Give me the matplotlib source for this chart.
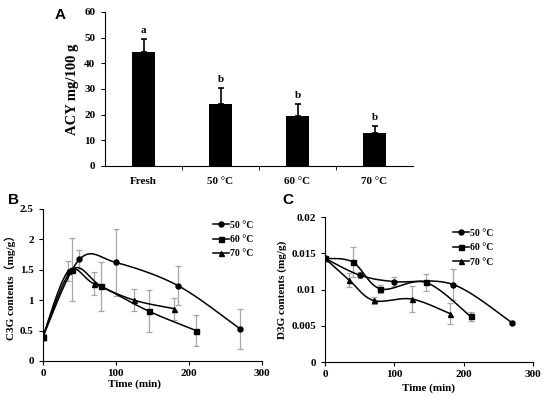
import numpy as np
import matplotlib
matplotlib.use("Agg")
import matplotlib.pyplot as plt

# ---- Data ----
a_categories = ["Fresh", "50 °C", "60 °C", "70 °C"]
a_values = [44.5, 24.0, 19.5, 13.0]
a_errors = [5.0, 6.5, 4.7, 2.5]
a_letters = ["a", "b", "b", "b"]

series_labels = ["50 °C", "60 °C", "70 °C"]
series_markers = ["o", "s", "^"]

b_x50 = [0, 50, 100, 185, 270]
b_y50 = [0.40, 1.67, 1.62, 1.24, 0.53]
b_e50 = [0.05, 0.16, 0.55, 0.32, 0.33]
b_x60 = [0, 40, 80, 145, 210]
b_y60 = [0.40, 1.50, 1.23, 0.82, 0.50]
b_e60 = [0.05, 0.52, 0.40, 0.34, 0.26]
b_x70 = [0, 35, 70, 125, 180]
b_y70 = [0.40, 1.48, 1.27, 1.00, 0.86]
b_e70 = [0.05, 0.17, 0.19, 0.18, 0.18]

c_x50 = [0, 50, 100, 185, 270]
c_y50 = [0.0143, 0.0120, 0.0111, 0.0107, 0.0054]
c_e50 = [0.0002, 0.0004, 0.0006, 0.0022, 0.0002]
c_x60 = [0, 40, 80, 145, 210]
c_y60 = [0.0143, 0.0138, 0.0101, 0.0110, 0.0063]
c_e60 = [0.0002, 0.0021, 0.0006, 0.0012, 0.0006]
c_x70 = [0, 35, 70, 125, 180]
c_y70 = [0.0143, 0.0113, 0.0085, 0.0087, 0.0067]
c_e70 = [0.0002, 0.0010, 0.0005, 0.0018, 0.0015]

SERIF = ["Liberation Serif", "Noto Sans CJK SC", "DejaVu Serif"]
plt.rcParams["font.family"] = SERIF
plt.rcParams["font.weight"] = "bold"


def excel_smooth(x, y, n=40):
    x = np.asarray(x, float); y = np.asarray(y, float)
    P = np.column_stack([x, y])
    out = []
    m = len(P)
    for i in range(m - 1):
        p0 = P[i - 1] if i > 0 else P[i]
        p1 = P[i]; p2 = P[i + 1]
        p3 = P[i + 2] if i + 2 < m else P[i + 1]
        c1 = p1 + (p2 - p0) / 6.0
        c2 = p2 - (p3 - p1) / 6.0
        t = np.linspace(0, 1, n)[:, None]
        seg = ((1 - t) ** 3) * p1 + 3 * ((1 - t) ** 2) * t * c1 + 3 * (1 - t) * t ** 2 * c2 + t ** 3 * p2
        out.append(seg if i == 0 else seg[1:])
    S = np.vstack(out)
    return S[:, 0], S[:, 1]


fig = plt.figure(figsize=(5.5, 3.97), dpi=100)

# ---- Panel A ----
axA = fig.add_axes([0.191, 0.582, 0.560, 0.388])
xa = np.arange(len(a_categories))
axA.bar(xa, a_values, width=0.3, color="black", zorder=2)
axA.errorbar(xa, a_values, yerr=[np.zeros(len(a_errors)), a_errors], fmt="none",
             ecolor="black", elinewidth=1.2, capsize=2.5, capthick=1.2, zorder=3)
for xi, v, e, l in zip(xa, a_values, a_errors, a_letters):
    axA.text(xi, v + e + 1.5, l, ha="center", va="bottom", fontsize=8, fontweight="bold")
axA.set_xlim(-0.5, 3.5)
axA.set_ylim(0, 60)
axA.set_yticks(range(0, 61, 10))
axA.set_xticks(xa)
axA.set_xticklabels(a_categories)
axA.set_xticks([0.5, 1.5, 2.5], minor=True)
axA.tick_params(axis="x", which="major", length=0, pad=8)
axA.tick_params(axis="x", which="minor", length=3, direction="out")
axA.tick_params(axis="y", length=3, direction="out", pad=4)
axA.set_ylabel("ACY mg/100 g", fontsize=10.5, fontweight="bold", labelpad=4)
for s in ["top", "right"]:
    axA.spines[s].set_visible(False)
for lab in axA.get_xticklabels() + axA.get_yticklabels():
    lab.set_fontsize(8); lab.set_fontweight("bold")
fig.text(0.100, 0.962, "A", fontsize=11, family="Liberation Sans", ha="left", va="center")


def line_panel(ax, data, ylim, yticks, ylabels, ylabel, leg_anchor):
    for (x, y, e), mk, lab in zip(data, series_markers, series_labels):
        ax.errorbar(x, y, yerr=e, fmt="none", ecolor="#a6a6a6", elinewidth=0.9,
                    capsize=2, capthick=0.9, zorder=1)
        sx, sy = excel_smooth(x, y)
        ax.plot(sx, sy, color="black", lw=1.1, zorder=2)
        ax.plot(x, y, ls="none", marker=mk, color="black", ms=3.6, zorder=3)
        ax.plot([], [], color="black", lw=1.1, marker=mk, ms=3.6, label=lab)
    ax.set_xlim(0, 300)
    ax.set_ylim(*ylim)
    ax.set_xticks([0, 100, 200, 300])
    ax.set_yticks(yticks)
    ax.set_yticklabels(ylabels)
    for s in ["top", "right"]:
        ax.spines[s].set_visible(False)
    ax.tick_params(axis="both", length=3, direction="out")
    ax.tick_params(axis="x", pad=3)
    for lab in ax.get_xticklabels() + ax.get_yticklabels():
        lab.set_fontsize(8); lab.set_fontweight("bold")
    ax.set_ylabel(ylabel, fontsize=8, fontweight="bold", labelpad=3)
    ax.legend(loc="upper right", bbox_to_anchor=leg_anchor, frameon=False,
              handlelength=1.6, handletextpad=0.1, labelspacing=0.55,
              prop={"family": SERIF, "weight": "bold", "size": 7})


# ---- Panel B ----
axB = fig.add_axes([0.078, 0.0907, 0.398, 0.383])
line_panel(axB, [(b_x50, b_y50, b_e50), (b_x60, b_y60, b_e60), (b_x70, b_y70, b_e70)],
           (0, 2.5), [0, 0.5, 1, 1.5, 2, 2.5], ["0", "0.5", "1", "1.5", "2", "2.5"],
           "C3G contents（mg/g）", (1.0, 0.98))
axB.set_xlabel("Time (min)", fontsize=8, fontweight="bold")
axB.xaxis.set_label_coords(0.42, -0.12)
fig.text(0.015, 0.495, "B", fontsize=11, family="Liberation Sans", ha="left", va="center")

# ---- Panel C ----
axC = fig.add_axes([0.591, 0.088, 0.378, 0.365])
line_panel(axC, [(c_x50, c_y50, c_e50), (c_x60, c_y60, c_e60), (c_x70, c_y70, c_e70)],
           (0, 0.02), [0, 0.005, 0.01, 0.015, 0.02], ["0", "0.005", "0.01", "0.015", "0.02"],
           "D3G contents (mg/g)", (0.85, 0.98))
axC.set_xlabel("Time (min)", fontsize=8, fontweight="bold", labelpad=3)
fig.text(0.513, 0.495, "C", fontsize=11, family="Liberation Sans", ha="left", va="center")

fig.savefig("out.png", dpi=100)
